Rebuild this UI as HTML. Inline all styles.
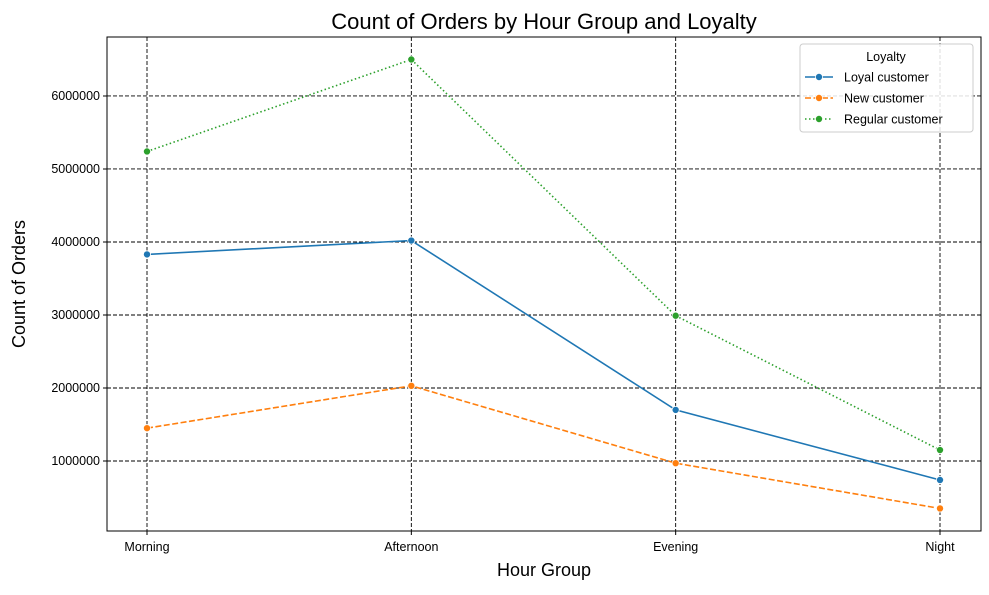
<!DOCTYPE html>
<html><head><meta charset="utf-8"><style>
body{margin:0;background:#fff;font-family:"Liberation Sans","DejaVu Sans",sans-serif}
</style></head><body>
<svg id="chart" width="989" height="590" xmlns="http://www.w3.org/2000/svg" font-family="'Liberation Sans','DejaVu Sans',sans-serif"></svg>
<script>
const categories=["Morning","Afternoon","Evening","Night"];
const loyalValues=[3830000,4020000,1700000,740000];
const newValues=[1450000,2030000,970000,350000];
const regularValues=[5240000,6500000,2990000,1150000];
const yTicks=[1000000,2000000,3000000,4000000,5000000,6000000];
const seriesNames=["Loyal customer","New customer","Regular customer"];

const L=107,R=981,T=37,B=531;
const yMin=41000,yMax=6808000;
const xPos=[147,411,676,940];
function x(i){return xPos[0]+(xPos[xPos.length-1]-xPos[0])*i/(categories.length-1);}
function y(v){return B-(v-yMin)/(yMax-yMin)*(B-T);}
const svg=document.getElementById('chart');
const NS="http://www.w3.org/2000/svg";
function el(t,a,p){const e=document.createElementNS(NS,t);for(const k in a)e.setAttribute(k,a[k]);(p||svg).appendChild(e);return e;}

const title=el('text',{x:544,y:29,'text-anchor':'middle','font-size':22,fill:'#000'});
title.textContent="Count of Orders by Hour Group and Loyalty";



// grid
yTicks.forEach(v=>{
 const g=el('line',{x1:L,x2:R,y1:y(v),y2:y(v),stroke:'#000','stroke-width':0.9,'stroke-dasharray':'4,2'});
 
 
 el('line',{x1:L-4,x2:L,y1:y(v),y2:y(v),stroke:'#000'});
 const t=el('text',{x:L-7,y:y(v)+4,'text-anchor':'end','font-size':12.5});
 t.textContent=String(v);
 
 
});
categories.forEach((c,i)=>{
 const g=el('line',{x1:x(i),x2:x(i),y1:T,y2:B,stroke:'#000','stroke-width':0.9,'stroke-dasharray':'4,2'});
 
 
 el('line',{x1:x(i),x2:x(i),y1:B,y2:B+4,stroke:'#000'});
 const t=el('text',{x:x(i),y:B+20,'text-anchor':'middle','font-size':12.5});
 t.textContent=c;
 
 
});
const frame=el('rect',{x:L,y:T,width:R-L,height:B-T,fill:'none',stroke:'#000','stroke-width':1});



const xt=el('text',{x:544,y:576,'text-anchor':'middle','font-size':18});
xt.textContent="Hour Group";


const yt=el('text',{x:0,y:0,'text-anchor':'middle','font-size':18,transform:'translate(25,284) rotate(-90)'});
yt.textContent="Count of Orders";



const series=[[loyalValues,'#1f77b4',''],[newValues,'#ff7f0e','6,2.5'],[regularValues,'#2ca02c','1.5,2.5']];
series.forEach((s,si)=>{
 const pts=s[0].map((v,i)=>x(i)+','+y(v)).join(' ');
 const pl=el('polyline',{points:pts,fill:'none',stroke:s[1],'stroke-width':1.6,'stroke-dasharray':s[2]});
 
 
 s[0].forEach((v,i)=>{
  const c=el('circle',{cx:x(i),cy:y(v),r:3.6,fill:s[1],stroke:'#fff','stroke-width':0.8});
  
  
 });
});

// legend
const lg=el('g',{});


el('rect',{x:800,y:44,width:173,height:88,rx:3,fill:'#fff','fill-opacity':0.85,stroke:'#ccc'},lg);
const lt=el('text',{x:886,y:61,'text-anchor':'middle','font-size':12.5},lg);
lt.textContent="Loyalty";
series.forEach((s,si)=>{
 const yy=77+si*21;
 const e=el('g',{},lg);
 
 
 el('line',{x1:805,x2:833,y1:yy,y2:yy,stroke:s[1],'stroke-width':1.6,'stroke-dasharray':s[2]},e);
 el('circle',{cx:819,cy:yy,r:3.6,fill:s[1],stroke:'#fff','stroke-width':0.8},e);
 const t=el('text',{x:844,y:yy+4.5,'font-size':12.5},e);
 t.textContent=seriesNames[si];
});
</script>
</body></html>
